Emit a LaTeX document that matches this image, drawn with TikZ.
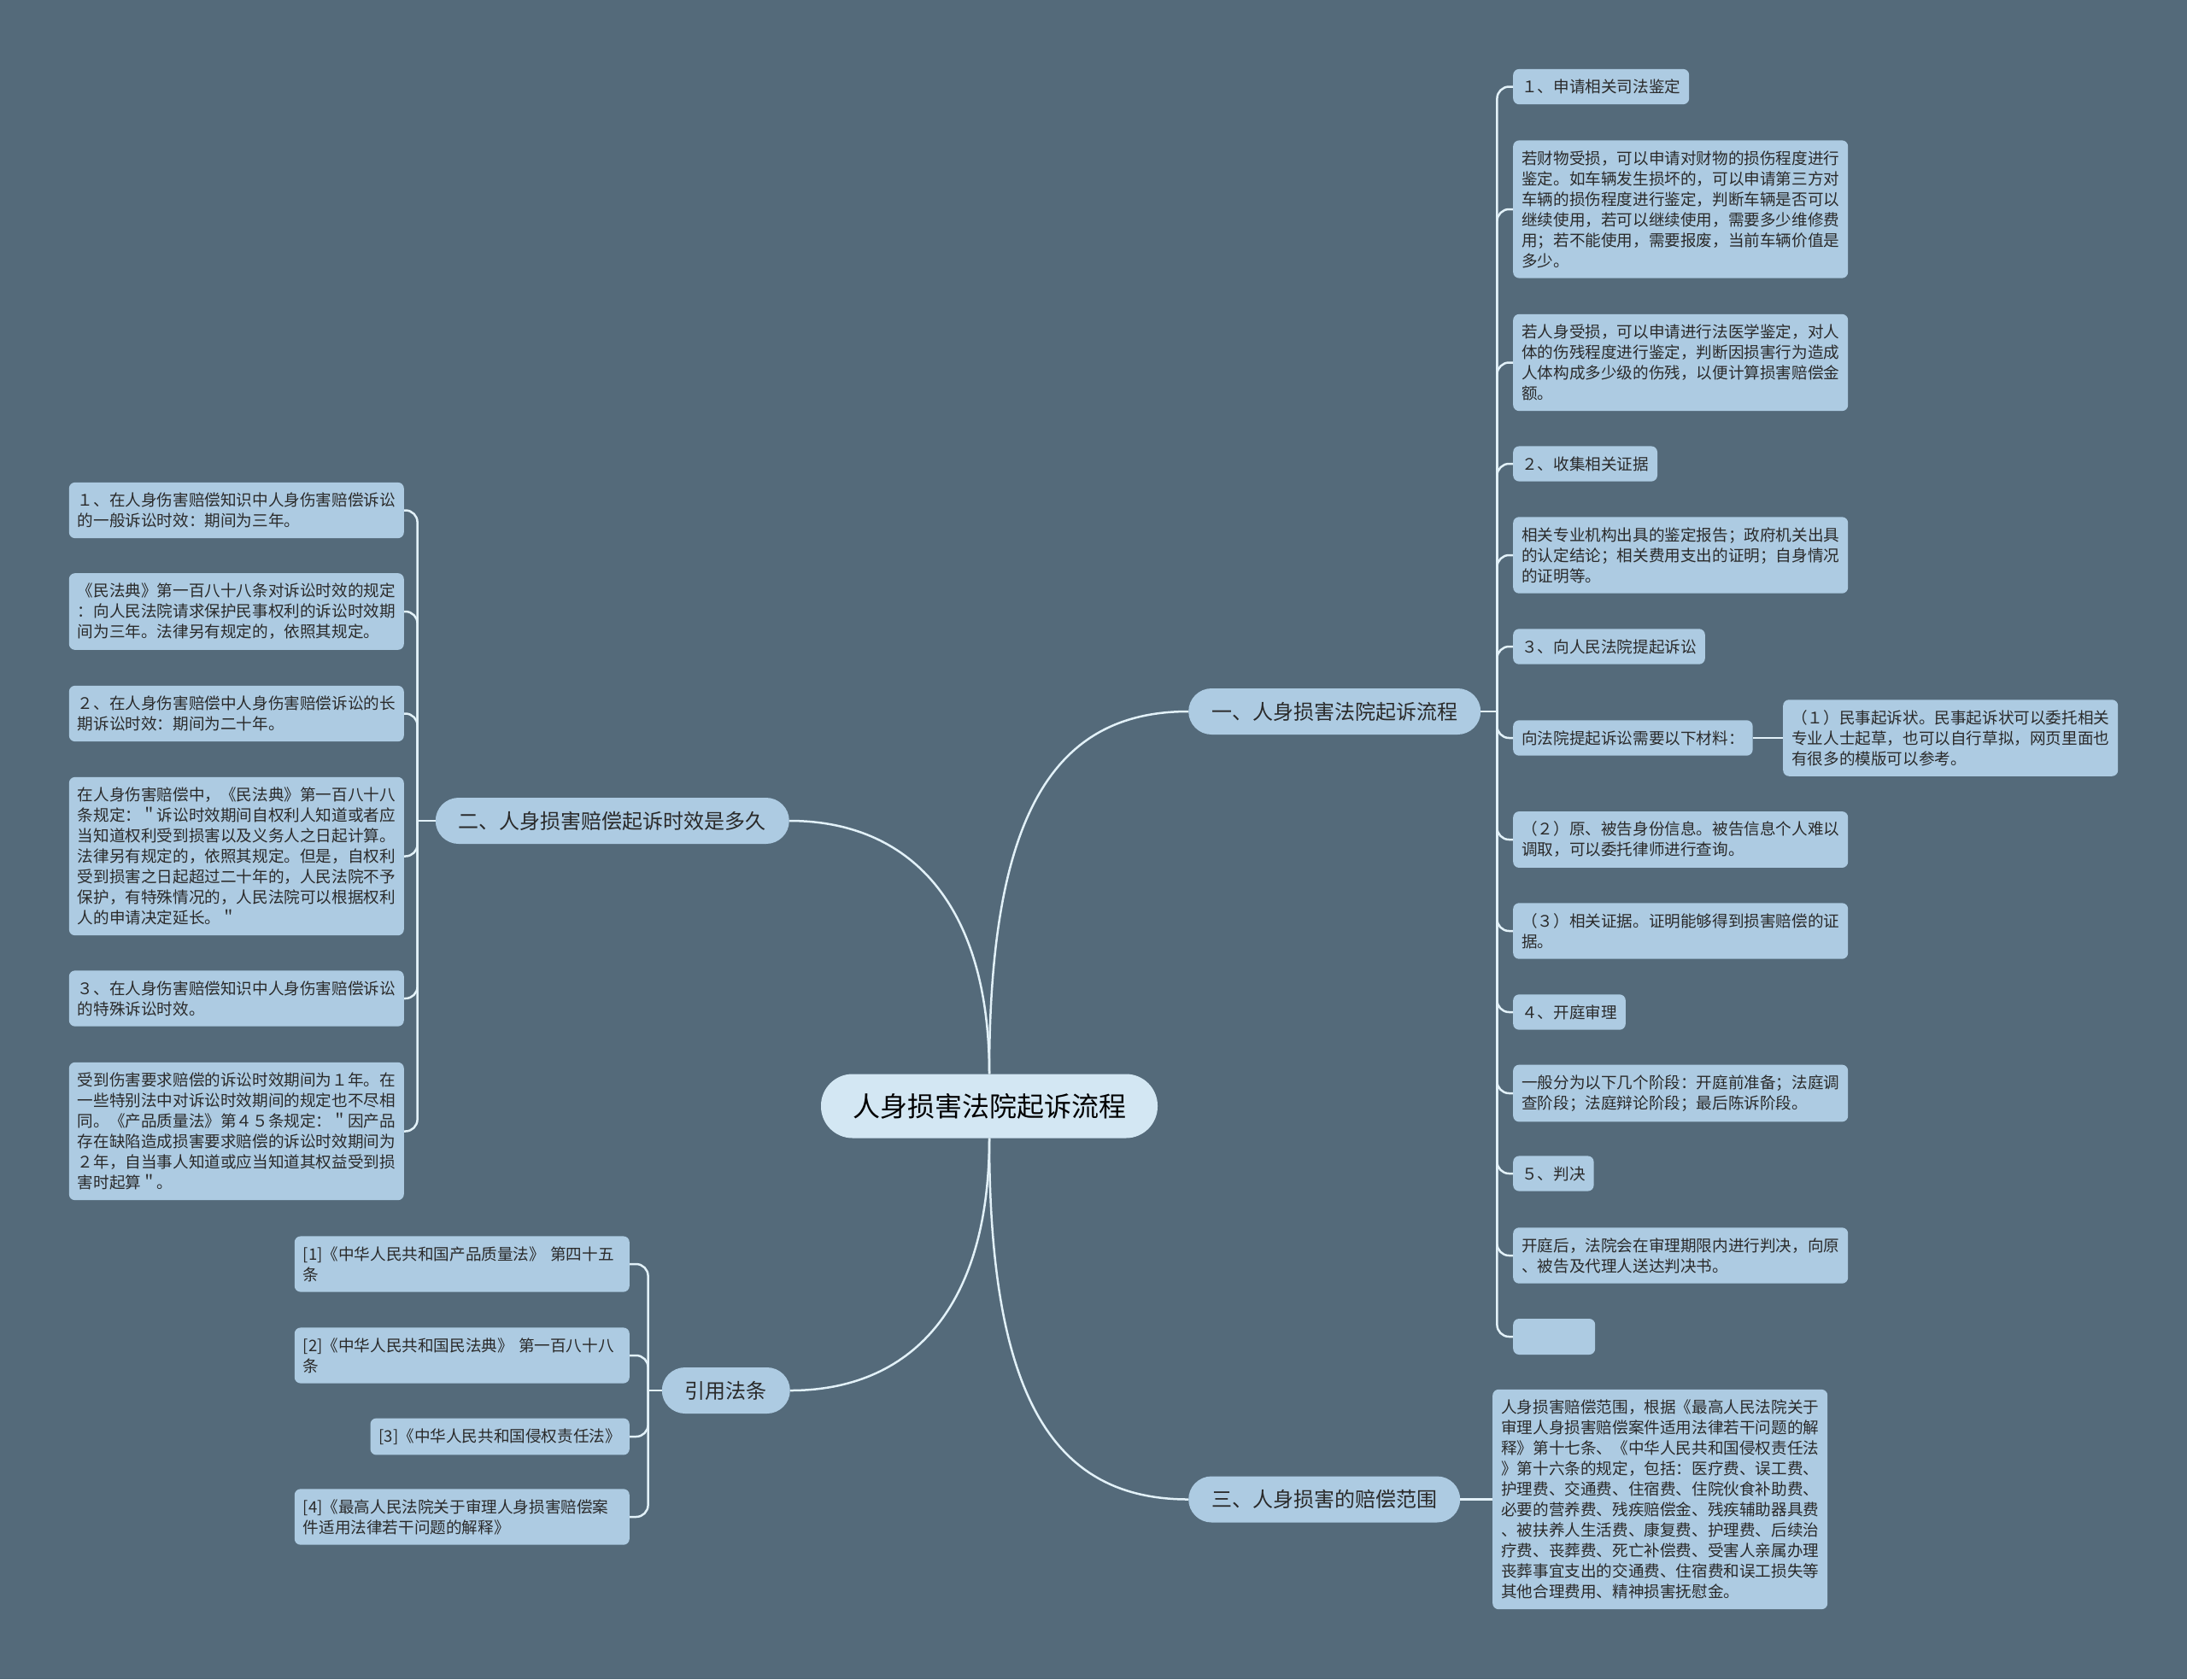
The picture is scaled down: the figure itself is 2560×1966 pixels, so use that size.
\documentclass[tikz,border=0pt]{standalone}
\usepackage{fontspec}
\setmainfont{Noto Sans CJK SC}
\usepackage{tikz}

\definecolor{bgslate}{HTML}{546A7A}
\definecolor{leafblue}{HTML}{ADCBE2}
\definecolor{rootblue}{HTML}{D3E7F3}
\definecolor{linkcol}{HTML}{E2F1F8}
\definecolor{textdark}{HTML}{2A2A2A}

\begin{document}
\begin{tikzpicture}[x=1pt, y=-1pt,
	leaf/.style={fill=leafblue, rounded corners=7pt, inner xsep=10pt, inner ysep=12pt, align=left, text=textdark, font=\fontsize{18.6}{24}\selectfont},
	wide/.style={leaf, text width=372pt},
	topic/.style={fill=leafblue, rounded corners=27pt, inner xsep=27pt, minimum height=54pt, text=textdark, font=\fontsize{24}{28}\selectfont},
	link/.style={draw=linkcol, line width=2.5pt, rounded corners=14pt}]
	\fill [bgslate] (0, 0) rectangle (2560, 1966);

	\node (root) at (1158, 1295) [fill=rootblue, rounded corners=37pt, inner xsep=37pt, minimum height=75pt, text=black, font=\fontsize{32}{36}\selectfont] {人身损害法院起诉流程};
	\node (proc) at (1391, 833) [topic, right] {一、人身损害法院起诉流程};
	\node (limit) at (924, 961) [topic, left] {二、人身损害赔偿起诉时效是多久};
	\node (range) at (1391, 1755.5) [topic, right] {三、人身损害的赔偿范围};
	\node (cite) at (925, 1628) [topic, left] {引用法条};

	\draw [link] (root.north) .. controls +(0, -300) and +(-160, 0) .. (proc.west);
	\draw [link] (root.north) .. controls +(0, -200) and +(140, 0) .. (limit.east);
	\draw [link] (root.south) .. controls +(0, 300) and +(-160, 0) .. (range.west);
	\draw [link] (root.south) .. controls +(0, 200) and +(140, 0) .. (cite.east);

	\node (r1) at (1771, 101.5) [leaf, right] {１、申请相关司法鉴定};
	\node (r2) at (1771, 245) [wide, right] {若财物受损，可以申请对财物的损伤程度进行\\鉴定。如车辆发生损坏的，可以申请第三方对\\车辆的损伤程度进行鉴定，判断车辆是否可以\\继续使用，若可以继续使用，需要多少维修费\\用；若不能使用，需要报废，当前车辆价值是\\多少。};
	\node (r3) at (1771, 424.5) [wide, right] {若人身受损，可以申请进行法医学鉴定，对人\\体的伤残程度进行鉴定，判断因损害行为造成\\人体构成多少级的伤残，以便计算损害赔偿金\\额。};
	\node (r4) at (1771, 543) [leaf, right] {２、收集相关证据};
	\node (r5) at (1771, 650) [wide, right] {相关专业机构出具的鉴定报告；政府机关出具\\的认定结论；相关费用支出的证明；自身情况\\的证明等。};
	\node (r6) at (1771, 757) [leaf, right] {３、向人民法院提起诉讼};
	\node (r7) at (1771, 864) [leaf, right] {向法院提起诉讼需要以下材料：};
	\node (r7a) at (2087, 864) [wide, right] {（１）民事起诉状。民事起诉状可以委托相关\\专业人士起草，也可以自行草拟，网页里面也\\有很多的模版可以参考。};
	\node (r8) at (1771, 983) [wide, right] {（２）原、被告身份信息。被告信息个人难以\\调取，可以委托律师进行查询。};
	\node (r9) at (1771, 1090) [wide, right] {（３）相关证据。证明能够得到损害赔偿的证\\据。};
	\node (r10) at (1771, 1185) [leaf, right] {４、开庭审理};
	\node (r11) at (1771, 1280) [wide, right] {一般分为以下几个阶段：开庭前准备；法庭调\\查阶段；法庭辩论阶段；最后陈诉阶段。};
	\node (r12) at (1771, 1374) [leaf, right] {５、判决};
	\node (r13) at (1771, 1470) [wide, right] {开庭后，法院会在审理期限内进行判决，向原\\、被告及代理人送达判决书。};
	\node (r14) at (1771, 1565) [leaf, right, minimum width=96pt, minimum height=42pt] {};

	\draw [link] (proc.east) -- ++(19, 0) coordinate (procbus);
	\draw [link] (procbus) |- (r1.west);
	\draw [link] (procbus) |- (r2.west);
	\draw [link] (procbus) |- (r3.west);
	\draw [link] (procbus) |- (r4.west);
	\draw [link] (procbus) |- (r5.west);
	\draw [link] (procbus) |- (r6.west);
	\draw [link] (procbus) |- (r7.west);
	\draw [link] (procbus) |- (r8.west);
	\draw [link] (procbus) |- (r9.west);
	\draw [link] (procbus) |- (r10.west);
	\draw [link] (procbus) |- (r11.west);
	\draw [link] (procbus) |- (r12.west);
	\draw [link] (procbus) |- (r13.west);
	\draw [link] (procbus) |- (r14.west);
	\draw [link] (r7.east) -- (r7a.west);

	\node (l1) at (473, 597.5) [wide, left] {１、在人身伤害赔偿知识中人身伤害赔偿诉讼\\的一般诉讼时效：期间为三年。};
	\node (l2) at (473, 716) [wide, left] {《民法典》第一百八十八条对诉讼时效的规定\\：向人民法院请求保护民事权利的诉讼时效期\\间为三年。法律另有规定的，依照其规定。};
	\node (l3) at (473, 835.5) [wide, left] {２、在人身伤害赔偿中人身伤害赔偿诉讼的长\\期诉讼时效：期间为二十年。};
	\node (l4) at (473, 1002.5) [wide, left] {在人身伤害赔偿中，《民法典》第一百八十八\\条规定：＂诉讼时效期间自权利人知道或者应\\当知道权利受到损害以及义务人之日起计算。\\法律另有规定的，依照其规定。但是，自权利\\受到损害之日起超过二十年的，人民法院不予\\保护，有特殊情况的，人民法院可以根据权利\\人的申请决定延长。＂};
	\node (l5) at (473, 1169) [wide, left] {３、在人身伤害赔偿知识中人身伤害赔偿诉讼\\的特殊诉讼时效。};
	\node (l6) at (473, 1324.5) [wide, left] {受到伤害要求赔偿的诉讼时效期间为１年。在\\一些特别法中对诉讼时效期间的规定也不尽相\\同。《产品质量法》第４５条规定：＂因产品\\存在缺陷造成损害要求赔偿的诉讼时效期间为\\２年，自当事人知道或应当知道其权益受到损\\害时起算＂。};

	\draw [link] (limit.west) -- ++(-21, 0) coordinate (limitbus);
	\draw [link] (limitbus) |- (l1.east);
	\draw [link] (limitbus) |- (l2.east);
	\draw [link] (limitbus) |- (l3.east);
	\draw [link] (limitbus) |- (l4.east);
	\draw [link] (limitbus) |- (l5.east);
	\draw [link] (limitbus) |- (l6.east);

	\node (g1) at (1747, 1755.5) [wide, right] {人身损害赔偿范围，根据《最高人民法院关于\\审理人身损害赔偿案件适用法律若干问题的解\\释》第十七条、《中华人民共和国侵权责任法\\》第十六条的规定，包括：医疗费、误工费、\\护理费、交通费、住宿费、住院伙食补助费、\\必要的营养费、残疾赔偿金、残疾辅助器具费\\、被扶养人生活费、康复费、护理费、后续治\\疗费、丧葬费、死亡补偿费、受害人亲属办理\\丧葬事宜支出的交通费、住宿费和误工损失等\\其他合理费用、精神损害抚慰金。};
	\draw [link] (range.east) -- (g1.west);

	\node (c1) at (737, 1480) [wide, left] {[1]《中华人民共和国产品质量法》 第四十五\\条};
	\node (c2) at (737, 1587) [wide, left] {[2]《中华人民共和国民法典》 第一百八十八\\条};
	\node (c3) at (737, 1682) [leaf, left] {[3]《中华人民共和国侵权责任法》};
	\node (c4) at (737, 1776) [wide, left] {[4]《最高人民法院关于审理人身损害赔偿案\\件适用法律若干问题的解释》};

	\draw [link] (cite.west) -- ++(-16, 0) coordinate (citebus);
	\draw [link] (citebus) |- (c1.east);
	\draw [link] (citebus) |- (c2.east);
	\draw [link] (citebus) |- (c3.east);
	\draw [link] (citebus) |- (c4.east);
\end{tikzpicture}
\end{document}
